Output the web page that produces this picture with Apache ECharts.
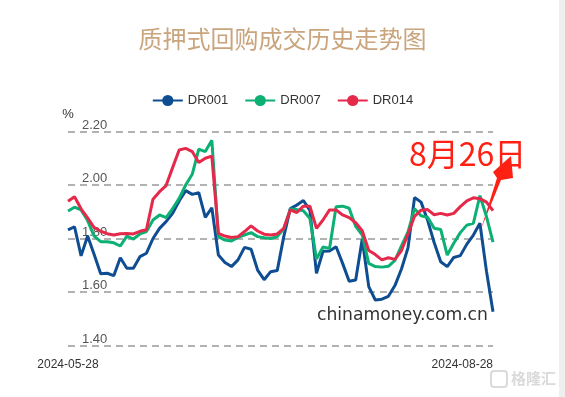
<!DOCTYPE html>
<html>
<head>
<meta charset="utf-8">
<script src="https://cdn.jsdelivr.net/npm/echarts@6/dist/echarts.min.js"></script>
<style>
    html, body { margin: 0; padding: 0; background: #fff; }
    #repo_chart { width: 565px; height: 397px; }
</style>
</head>
<body>
<div id="repo_chart"></div>
<script>
// 交易日 2024-05-28 ~ 2024-08-28
const tradeDates = [
    '2024-05-28', '2024-05-29', '2024-05-30', '2024-05-31',
    '2024-06-03', '2024-06-04', '2024-06-05', '2024-06-06', '2024-06-07',
    '2024-06-11', '2024-06-12', '2024-06-13', '2024-06-14',
    '2024-06-17', '2024-06-18', '2024-06-19', '2024-06-20', '2024-06-21',
    '2024-06-24', '2024-06-25', '2024-06-26', '2024-06-27', '2024-06-28',
    '2024-07-01', '2024-07-02', '2024-07-03', '2024-07-04', '2024-07-05',
    '2024-07-08', '2024-07-09', '2024-07-10', '2024-07-11', '2024-07-12',
    '2024-07-15', '2024-07-16', '2024-07-17', '2024-07-18', '2024-07-19',
    '2024-07-22', '2024-07-23', '2024-07-24', '2024-07-25', '2024-07-26',
    '2024-07-29', '2024-07-30', '2024-07-31',
    '2024-08-01', '2024-08-02',
    '2024-08-05', '2024-08-06', '2024-08-07', '2024-08-08', '2024-08-09',
    '2024-08-12', '2024-08-13', '2024-08-14', '2024-08-15', '2024-08-16',
    '2024-08-19', '2024-08-20', '2024-08-21', '2024-08-22', '2024-08-23',
    '2024-08-26', '2024-08-27', '2024-08-28'
]

const dr001 = [
    1.832, 1.844, 1.735, 1.809, 1.740, 1.668, 1.670, 1.661, 1.728, 1.689,
    1.689, 1.732, 1.745, 1.800, 1.838, 1.863, 1.894, 1.940, 1.979, 1.965,
    1.971, 1.879, 1.915, 1.738, 1.710, 1.695, 1.720, 1.767, 1.760, 1.682,
    1.646, 1.676, 1.680, 1.807, 1.912, 1.925, 1.942, 1.905, 1.670, 1.752,
    1.753, 1.769, 1.707, 1.640, 1.645, 1.797, 1.620, 1.570, 1.573, 1.584,
    1.624, 1.686, 1.765, 1.953, 1.936, 1.868, 1.785, 1.713, 1.695, 1.729,
    1.736, 1.779, 1.813, 1.857, 1.678, 1.526
]
const dr007 = [
    1.903, 1.917, 1.907, 1.867, 1.809, 1.788, 1.788, 1.784, 1.772, 1.809,
    1.798, 1.817, 1.826, 1.869, 1.888, 1.878, 1.912, 1.950, 2.000, 2.040,
    2.134, 2.125, 2.167, 1.807, 1.794, 1.791, 1.804, 1.813, 1.822, 1.807,
    1.803, 1.800, 1.807, 1.835, 1.910, 1.908, 1.904, 1.875, 1.723, 1.768,
    1.763, 1.919, 1.921, 1.913, 1.845, 1.813, 1.707, 1.695, 1.693, 1.696,
    1.718, 1.772, 1.825, 1.911, 1.885, 1.879, 1.838, 1.834, 1.738, 1.782,
    1.822, 1.850, 1.857, 1.960, 1.882, 1.786
]
const dr014 = [
    1.939, 1.956, 1.911, 1.877, 1.841, 1.827, 1.818, 1.813, 1.818, 1.819,
    1.817, 1.827, 1.833, 1.947, 1.975, 1.998, 2.065, 2.131, 2.137, 2.125,
    2.084, 2.100, 2.108, 1.819, 1.809, 1.804, 1.807, 1.826, 1.847, 1.828,
    1.816, 1.813, 1.817, 1.838, 1.907, 1.897, 1.921, 1.921, 1.838, 1.869,
    1.907, 1.907, 1.888, 1.878, 1.859, 1.829, 1.755, 1.740, 1.720, 1.728,
    1.722, 1.755, 1.817, 1.883, 1.906, 1.908, 1.889, 1.894, 1.888, 1.894,
    1.919, 1.941, 1.952, 1.949, 1.936, 1.904
]

const seriesNames = ['DR001', 'DR007', 'DR014']
const seriesColors = ['#0f4d92', '#0cb074', '#e5294a']

const nodeDiv = document.getElementById('repo_chart')
const myChart = echarts.init(nodeDiv, null, { renderer: 'canvas' })
const lastIdx = tradeDates.length - 1

const option = {
    backgroundColor: '#fff',
    animation: false,
    title: {
        text: '质押式回购成交历史走势图',
        left: 'center',
        top: 22,
        textStyle: {
            color: '#c9a47c',
            fontSize: 24,
            fontWeight: 'normal',
            fontFamily: 'Noto Sans CJK SC'
        }
    },
    legend: {
        data: seriesNames,
        top: 89,
        left: 'center',
        itemWidth: 30,
        itemHeight: 14,
        itemGap: 16,
        textStyle: {
            color: '#333',
            fontSize: 13,
            fontFamily: 'Liberation Sans'
        }
    },
    grid: {
        left: 68,
        right: 72,
        top: 131.5,
        bottom: 51.5
    },
    xAxis: {
        type: 'category',
        boundaryGap: false,
        data: tradeDates,
        axisLine: { show: false },
        axisTick: { show: false },
        axisLabel: {
            color: '#333',
            fontSize: 12,
            fontFamily: 'Liberation Sans',
            margin: 13,
            interval: (idx) => idx === 0 || idx === lastIdx,
            alignMaxLabel: 'right'
        }
    },
    yAxis: {
        type: 'value',
        min: 1.4,
        max: 2.2,
        interval: 0.2,
        name: '%',
        nameLocation: 'end',
        nameGap: 11,
        nameTextStyle: {
            color: '#333',
            fontSize: 13,
            fontFamily: 'Liberation Sans'
        },
        axisLine: { show: false },
        axisTick: { show: false },
        axisLabel: {
            inside: true,
            margin: 14,
            verticalAlign: 'bottom',
            color: '#555',
            fontSize: 13,
            fontFamily: 'Liberation Sans',
            formatter: (val) => val.toFixed(2)
        },
        splitLine: {
            lineStyle: {
                color: '#999',
                width: 1.5,
                type: [7, 5]
            }
        }
    },
    series: [dr001, dr007, dr014].map((vals, i) => ({
        name: seriesNames[i],
        type: 'line',
        data: vals,
        symbol: 'circle',
        symbolSize: 10,
        showSymbol: false,
        itemStyle: { color: seriesColors[i] },
        lineStyle: { color: seriesColors[i], width: 3 }
    })),
    graphic: [
        {
            type: 'text',
            left: 317,
            top: 307,
            style: {
                text: 'chinamoney.com.cn',
                fill: '#333',
                font: '17.2px "DejaVu Sans"'
            }
        },
        {
            type: 'text',
            left: 409,
            top: 138,
            style: {
                text: '8月26日',
                fill: '#ff2014',
                font: '32px "Noto Sans CJK SC"'
            }
        },
        {
            type: 'polygon',
            shape: {
                points: [[481, 229], [497, 178], [493, 172], [511, 156], [513, 178], [501, 180]]
            },
            style: { fill: '#ff2014' }
        },
        {
            type: 'rect',
            shape: { x: 559, y: 0, width: 6, height: 397 },
            style: { fill: '#efefef' }
        },
        {
            type: 'rect',
            shape: { x: 491, y: 371, width: 16, height: 16, r: 3 },
            style: { fill: 'none', stroke: '#dadada', lineWidth: 2 }
        },
        {
            type: 'text',
            left: 511,
            top: 371,
            style: {
                text: '格隆汇',
                fill: '#dadada',
                font: 'bold 15px "Noto Sans CJK SC"'
            }
        }
    ]
}
myChart.setOption(option)
</script>
</body>
</html>
